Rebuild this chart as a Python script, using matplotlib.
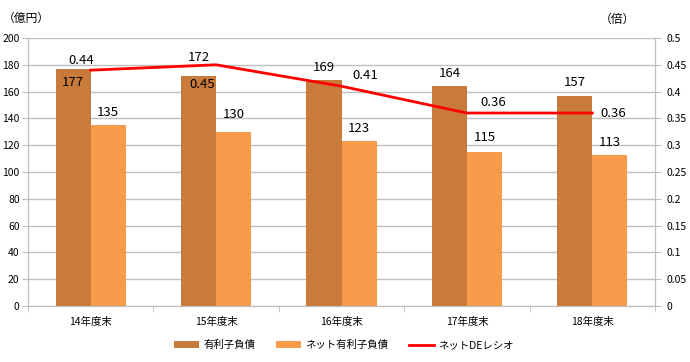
import numpy as np
import matplotlib.pyplot as plt
from matplotlib.ticker import FuncFormatter

plt.rcParams['font.family'] = ['Noto Sans CJK JP', 'DejaVu Sans']

categories = ['14年度末', '15年度末', '16年度末', '17年度末', '18年度末']
debt = [177, 172, 169, 164, 157]
net_debt = [135, 130, 123, 115, 113]
de_ratio = [0.44, 0.45, 0.41, 0.36, 0.36]

# label offsets (pixels)
debt_dy = [-14, 18, 12, 13, 13]
net_dy = [13, 17, 13, 14, 12]
ratio_off = [(-9, 10), (-14, -20), (24, 11), (26, 11), (21, 0)]

c_debt = '#C97B3B'
c_net = '#F79B4B'
c_grid = '#BFBFBF'

fig = plt.figure(figsize=(6.9, 3.62), dpi=100)
ax = fig.add_axes([28 / 690, 56 / 362, 627 / 690, 268 / 362])
ax2 = ax.twinx()

x = np.arange(len(categories))
w = 0.28
ax.bar(x - w / 2, debt, w, color=c_debt, label='有利子負債', zorder=2)
ax.bar(x + w / 2, net_debt, w, color=c_net, label='ネット有利子負債', zorder=2)
ax2.plot(x, de_ratio, color='#FF0000', lw=2, label='ネットDEレシオ')

ax.set_xlim(-0.5, len(categories) - 0.5)
ax.set_ylim(0, 200)
ax.set_yticks(np.arange(0, 201, 20))
ax2.set_ylim(0, 0.5)
ax2.set_yticks(np.arange(0, 0.51, 0.05))
ax2.yaxis.set_major_formatter(FuncFormatter(lambda v, p: '%g' % round(v, 2)))

ax.set_xticks(x)
ax.set_xticklabels(categories, fontsize=7.5)
ax.set_xticks(np.arange(-0.5, len(categories), 1), minor=True)
ax.tick_params(axis='x', which='major', length=0, pad=8)
ax.tick_params(axis='x', which='minor', length=4, color=c_grid)
ax.tick_params(axis='y', labelsize=7.5, length=4, color=c_grid, pad=2)
ax2.tick_params(axis='y', labelsize=7.5, length=4, color=c_grid, pad=4)

ax.yaxis.grid(True, color=c_grid, lw=1, zorder=0)
ax.set_axisbelow(True)
for a in (ax, ax2):
    a.spines['top'].set_visible(False)
    for s in ('left', 'right', 'bottom'):
        a.spines[s].set_color(c_grid)

for i in range(len(categories)):
    ax.annotate(str(debt[i]), (x[i] - w / 2, debt[i]), xytext=(0, debt_dy[i]),
                textcoords='offset pixels', ha='center', va='center', fontsize=9.5)
    ax.annotate(str(net_debt[i]), (x[i] + w / 2, net_debt[i]), xytext=(0, net_dy[i]),
                textcoords='offset pixels', ha='center', va='center', fontsize=9.5)
    ax2.annotate('%.2f' % de_ratio[i], (x[i], de_ratio[i]), xytext=ratio_off[i],
                 textcoords='offset pixels', ha='center', va='center', fontsize=9.5)

fig.text(3 / 690, 1 - 18 / 362, '（億円）', fontsize=8.5, ha='left', va='center')
fig.text(600 / 690, 1 - 19 / 362, '（倍）', fontsize=8.5, ha='left', va='center')

h1, l1 = ax.get_legend_handles_labels()
h2, l2 = ax2.get_legend_handles_labels()
fig.legend(h1 + h2, l1 + l2, loc='center', bbox_to_anchor=(344 / 690, 1 - 345 / 362),
           ncol=3, frameon=False, fontsize=7.5, handlelength=2.4, handleheight=0.6,
           columnspacing=2.0, handletextpad=0.4)

fig.savefig('out.png', dpi=100)
